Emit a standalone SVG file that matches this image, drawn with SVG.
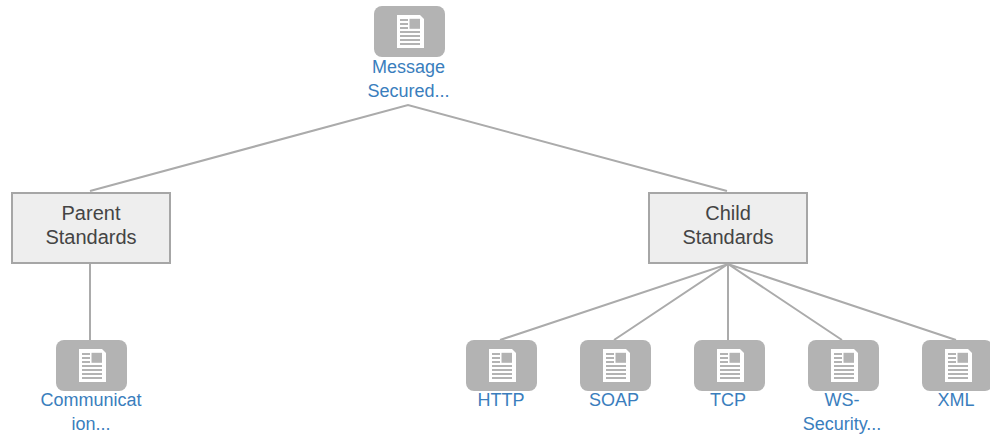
<svg xmlns="http://www.w3.org/2000/svg" width="990" height="439" viewBox="0 0 990 439">
<style>
text{font-family:"Liberation Sans",Arial,sans-serif;font-size:18px;text-anchor:middle}
.l{fill:#3a7ebd}
.c{fill:#444;font-size:20px}
.b{fill:#eeeeee;stroke:#a6a6a6;stroke-width:2}
.e{fill:none;stroke:#ababab;stroke-width:2}
.t{fill:#b3b3b3}
.p{fill:#fff}
.r{stroke:#b3b3b3;stroke-width:2;fill:none}
.g{fill:#b3b3b3}
</style>
<defs>
<g id="doc">
<rect class="t" x="0" y="0" width="71" height="51" rx="8"/>
<path class="p" d="M23 9H46L50 13V42H23Z"/>
<path class="r" d="M26 14H34M26 18H34M26 22H34M26 26H46M26 30H46M26 34H46M26 38H46"/>
<rect class="g" x="35.500" y="12.800" width="10.500" height="10"/>
</g>
</defs>
<g id="connectors">
<path class="e" d="M90 191L408 105L727 191"/>
<path class="e" d="M90 263V340"/>
<path class="e" d="M500 340L728 264L956 340M614 340L728 264L842 340M728 264V340"/>
</g>
<g id="message"><use href="#doc" x="374" y="6"/><text class="l" x="408.500" y="73">Message</text><text class="l" x="408.500" y="97">Secured...</text></g>
<g id="parent"><rect class="b" x="12" y="193" width="158" height="70"/><text class="c" x="91" y="220">Parent</text><text class="c" x="91" y="244">Standards</text></g>
<g id="child"><rect class="b" x="649" y="193" width="158" height="70"/><text class="c" x="728" y="220">Child</text><text class="c" x="728" y="244">Standards</text></g>
<g id="communication"><use href="#doc" x="56" y="340"/><text class="l" x="91" y="406">Communicat</text><text class="l" x="91" y="430">ion...</text></g>
<g id="http"><use href="#doc" x="466" y="340"/><text class="l" x="501" y="406">HTTP</text></g>
<g id="soap"><use href="#doc" x="580" y="340"/><text class="l" x="614" y="406">SOAP</text></g>
<g id="tcp"><use href="#doc" x="694" y="340"/><text class="l" x="728" y="406">TCP</text></g>
<g id="ws"><use href="#doc" x="808" y="340"/><text class="l" x="842" y="406">WS-</text><text class="l" x="842" y="430">Security...</text></g>
<g id="xml"><use href="#doc" x="922" y="340"/><text class="l" x="956" y="406">XML</text></g>
</svg>
